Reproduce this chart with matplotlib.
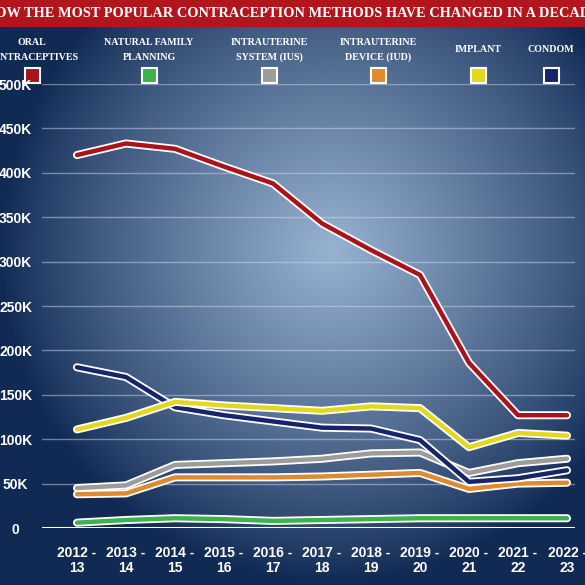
import numpy as np
import matplotlib
matplotlib.use("Agg")
import matplotlib.pyplot as plt
import matplotlib.patheffects as pe
from matplotlib.patches import Rectangle

# ---------------- data ----------------
periods = ["2012 -\n13", "2013 -\n14", "2014 -\n15", "2015 -\n16", "2016 -\n17",
           "2017 -\n18", "2018 -\n19", "2019 -\n20", "2020 -\n21", "2021 -\n22", "2022 -\n23"]

oral = [420, 433, 427, 407, 388, 343, 313, 285, 186, 127, 127]
natural = [6, 9, 11, 10, 8, 9, 10, 11, 11, 11, 11]
ius = [45, 48, 71, 73, 75, 78, 84, 85, 62, 73, 78]
iud = [38, 39, 57, 57, 57, 58, 60, 62, 44, 50, 51]
implant = [111, 124, 142, 138, 135, 132, 137, 135, 91, 107, 104]
condom = [181, 170, 136, 127, 120, 113, 112, 99, 52, 56, 65]

series_names = ["ORAL\nCONTRACEPTIVES", "NATURAL FAMILY\nPLANNING", "INTRAUTERINE\nSYSTEM (IUS)",
                "INTRAUTERINE\nDEVICE (IUD)", "IMPLANT", "CONDOM"]
series_values = [oral, natural, ius, iud, implant, condom]
series_colors = ["#a8131c", "#3bb34a", "#9c9c9c", "#df8a2e", "#e2d81e", "#17246a"]

yticks = [0, 50, 100, 150, 200, 250, 300, 350, 400, 450, 500]
ytick_labels = ["0", "50K", "100K", "150K", "200K", "250K", "300K", "350K", "400K", "450K", "500K"]

title = "HOW THE MOST POPULAR CONTRACEPTION METHODS HAVE CHANGED IN A DECADE"

SERIF = ["Liberation Serif", "DejaVu Serif"]
SANS = ["Liberation Sans", "DejaVu Sans"]

# ---------------- figure ----------------
W = H = 585
fig = plt.figure(figsize=(W / 100, H / 100), dpi=100)

# background gradient
bg = fig.add_axes([0, 0, 1, 1], zorder=-10)
yy, xx = np.mgrid[0:H, 0:W]
d = np.sqrt(((xx - 330) / 330.0) ** 2 + ((yy - 250) / 330.0) ** 2)
t = np.clip(1 - d, 0, 1) ** 0.85
dark = np.array([0x11, 0x2a, 0x54]) / 255
light = np.array([0x98, 0xb2, 0xd2]) / 255
img = dark[None, None, :] * (1 - t[..., None]) + light[None, None, :] * t[..., None]
bg.imshow(img, extent=[0, W, H, 0], aspect="auto", interpolation="bilinear")
bg.set_xlim(0, W)
bg.set_ylim(H, 0)
bg.axis("off")

# red banner
bg.add_patch(Rectangle((0, 0), W, 26, color="#b3151d", zorder=2))
ttl = bg.text(292, 13.5, title, color="white", fontsize=16, fontweight="bold",
              family=SERIF, ha="center", va="center", zorder=3)
fig.canvas.draw()
bb = ttl.get_window_extent()
ttl.set_fontsize(16 * 618.0 / bb.width)

# legend
leg_x = [32, 149, 269, 378, 478, 551]
for name, col, lx in zip(series_names, series_colors, leg_x):
    bg.text(lx, 50, name, color="white", fontsize=7.2, fontweight="bold", family=SERIF,
            ha="center", va="center", linespacing=1.75, zorder=3)
    bg.add_patch(Rectangle((lx - 7.5, 68), 15, 15, facecolor=col, edgecolor="white",
                           linewidth=1.5, zorder=3))

# main axes
x0, x1 = 42, 575
ybot, ytop = 528, 84
ax = fig.add_axes([x0 / W, (H - ybot) / H, (x1 - x0) / W, (ybot - ytop) / H])
ax.patch.set_alpha(0)
for s in ax.spines.values():
    s.set_visible(False)

xs = np.arange(len(periods))
step = 49.0
ax.set_xlim((x0 - 77) / step, (x1 - 77) / step)
ax.set_ylim(0, 500)

for yv in yticks[1:]:
    ax.axhline(yv, color="#c9d8ea", alpha=0.5, linewidth=1.0, zorder=1)
ax.axhline(0, color="white", linewidth=2.2, zorder=1)

draw_order = [1, 3, 2, 5, 4, 0]
for k in draw_order:
    ax.plot(xs, series_values[k], color=series_colors[k], linewidth=3.2, solid_capstyle="round",
            solid_joinstyle="round", clip_on=False, zorder=3 + draw_order.index(k),
            path_effects=[pe.Stroke(linewidth=5.8, foreground="white"), pe.Normal()])

ax.set_yticks(yticks)
ax.set_yticklabels(ytick_labels)
ax.set_xticks(xs)
ax.set_xticklabels(periods, linespacing=1.05)
ax.tick_params(axis="both", length=0, colors="white")
ax.tick_params(axis="y", pad=19)
ax.tick_params(axis="x", pad=13)
for lab in ax.get_yticklabels():
    lab.set_ha("center")
    lab.set_fontweight("bold")
    lab.set_fontsize(10)
    lab.set_family(SANS)
for lab in ax.get_xticklabels():
    lab.set_fontweight("bold")
    lab.set_fontsize(10)
    lab.set_family(SANS)

fig.savefig("out.png", dpi=100)
